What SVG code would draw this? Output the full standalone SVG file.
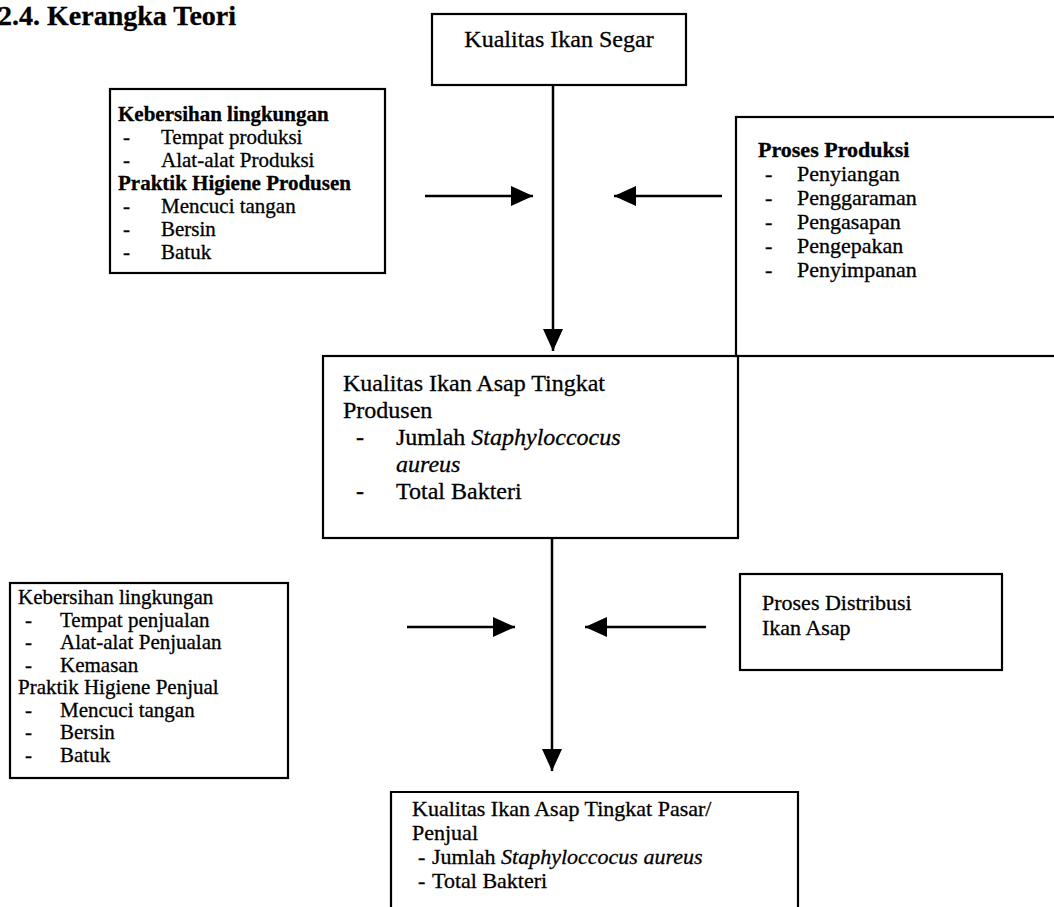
<svg xmlns="http://www.w3.org/2000/svg" width="1054" height="907" viewBox="0 0 1054 907">
<defs>
<style>
text { font-family: "Liberation Serif", "Times New Roman", serif; font-size: 21px; fill: #000; stroke: #000; stroke-width: 0.3; }
.b { font-weight: bold; }
.i { font-style: italic; }
.md { font-size: 22px; }
.lg { font-size: 24px; }
.title { font-size: 28px; font-weight: bold; }
.box { fill: none; stroke: #000; stroke-width: 2.2; }
.con { stroke: #000; stroke-width: 2.5; fill: none; marker-end: url(#ah); }
</style>
<marker id="ah" markerUnits="userSpaceOnUse" viewBox="0 0 22 20" refX="22" refY="10" markerWidth="22" markerHeight="20" orient="auto">
<path d="M0,0 L22,10 L0,20 z" fill="#000"/>
</marker>
</defs>
<rect width="1054" height="907" fill="#fff"/>

<text class="title" x="-2" y="25">2.4. Kerangka Teori</text>

<g id="n-segar">
<rect class="box" x="432" y="14" width="254" height="71"/>
<text class="lg" x="559" y="47" text-anchor="middle">Kualitas Ikan Segar</text>
</g>

<g id="n-lingkungan-produsen">
<rect class="box" x="110" y="89" width="275" height="184"/>
<text class="b" x="118" y="121">Kebersihan lingkungan</text>
<text x="123" y="144">-</text><text x="161" y="144">Tempat produksi</text>
<text x="123" y="167">-</text><text x="161" y="167">Alat-alat Produksi</text>
<text class="b" x="118" y="190">Praktik Higiene Produsen</text>
<text x="123" y="213">-</text><text x="161" y="213">Mencuci tangan</text>
<text x="123" y="236">-</text><text x="161" y="236">Bersin</text>
<text x="123" y="259">-</text><text x="161" y="259">Batuk</text>
</g>

<g id="n-proses-produksi">
<rect class="box" x="736" y="117" width="330" height="239"/>
<text class="b md" x="758" y="157">Proses Produksi</text>
<text class="md" x="765" y="181">-</text><text class="md" x="797" y="181">Penyiangan</text>
<text class="md" x="765" y="205">-</text><text class="md" x="797" y="205">Penggaraman</text>
<text class="md" x="765" y="229">-</text><text class="md" x="797" y="229">Pengasapan</text>
<text class="md" x="765" y="253">-</text><text class="md" x="797" y="253">Pengepakan</text>
<text class="md" x="765" y="277">-</text><text class="md" x="797" y="277">Penyimpanan</text>
</g>

<g id="n-produsen">
<rect class="box" x="323" y="356" width="415" height="182"/>
<text class="lg" x="343" y="391">Kualitas Ikan Asap Tingkat</text>
<text class="lg" x="343" y="418">Produsen</text>
<text class="lg" x="356" y="445">-</text><text class="lg" x="396" y="445">Jumlah <tspan class="i">Staphyloccocus</tspan></text>
<text class="lg i" x="396" y="472">aureus</text>
<text class="lg" x="356" y="499">-</text><text class="lg" x="396" y="499">Total Bakteri</text>
</g>

<g id="n-lingkungan-penjual">
<rect class="box" x="10" y="583" width="278" height="195"/>
<text x="18" y="604">Kebersihan lingkungan</text>
<text x="25" y="626.5">-</text><text x="60" y="626.5">Tempat penjualan</text>
<text x="25" y="649">-</text><text x="60" y="649">Alat-alat Penjualan</text>
<text x="25" y="671.5">-</text><text x="60" y="671.5">Kemasan</text>
<text x="18" y="694">Praktik Higiene Penjual</text>
<text x="25" y="716.5">-</text><text x="60" y="716.5">Mencuci tangan</text>
<text x="25" y="739">-</text><text x="60" y="739">Bersin</text>
<text x="25" y="761.5">-</text><text x="60" y="761.5">Batuk</text>
</g>

<g id="n-distribusi">
<rect class="box" x="740" y="574" width="262" height="96"/>
<text class="md" x="762" y="610">Proses Distribusi</text>
<text class="md" x="762" y="635">Ikan Asap</text>
</g>

<g id="n-pasar">
<path class="box" d="M391,912 V792 H798 V912"/>
<text class="md" x="412" y="816">Kualitas Ikan Asap Tingkat Pasar/</text>
<text class="md" x="412" y="840">Penjual</text>
<text class="md" x="418" y="864">-</text><text class="md" x="432" y="864">Jumlah <tspan class="i">Staphyloccocus aureus</tspan></text>
<text class="md" x="418" y="888">-</text><text class="md" x="432" y="888">Total Bakteri</text>
</g>

<g id="connectors">
<line class="con" x1="553" y1="85" x2="553" y2="351"/>
<line class="con" x1="425" y1="196" x2="533" y2="196"/>
<line class="con" x1="722" y1="196" x2="614" y2="196"/>
<line class="con" x1="552" y1="538" x2="552" y2="771"/>
<line class="con" x1="407" y1="627" x2="515" y2="627"/>
<line class="con" x1="706" y1="627" x2="585" y2="627"/>
</g>
</svg>
